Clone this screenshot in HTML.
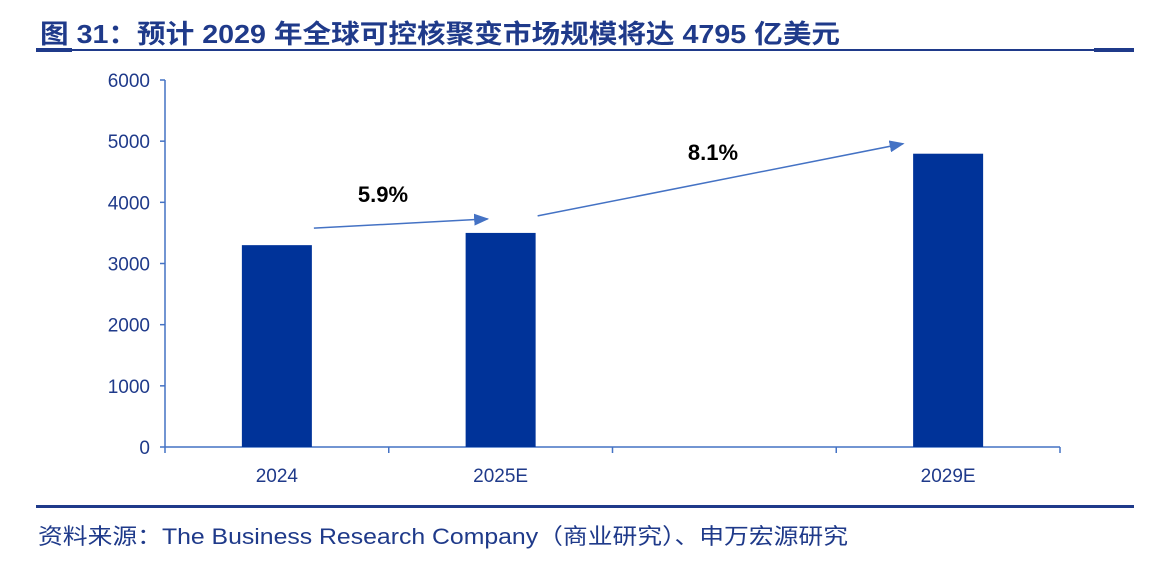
<!DOCTYPE html>
<html><head><meta charset="utf-8"><style>
body{margin:0;background:#fff;width:1170px;height:564px;overflow:hidden;font-family:"Liberation Sans","Noto Sans CJK SC",sans-serif;}
</style></head><body>
<svg width="1170" height="564" xmlns="http://www.w3.org/2000/svg">
<text x="40" y="43" font-size="26" font-weight="bold" fill="#1f3a8a" textLength="800" lengthAdjust="spacingAndGlyphs" font-family="Liberation Sans, Noto Sans CJK SC, sans-serif">图 31：预计 2029 年全球可控核聚变市场规模将达 4795 亿美元</text>
<rect x="36" y="49" width="1098" height="2" fill="#1f3a8a"/>
<rect x="36" y="48" width="36" height="4" fill="#1f3a8a"/>
<rect x="1094" y="48" width="40" height="4" fill="#1f3a8a"/>
<g id="plot"></g>
<rect x="36" y="505" width="1098" height="3" fill="#1f3a8a"/>
<text x="38" y="544" font-size="22" fill="#1f3a8a" textLength="810" lengthAdjust="spacingAndGlyphs" font-family="Liberation Sans, Noto Sans CJK SC, sans-serif">资料来源：The Business Research Company（商业研究）、申万宏源研究</text>
</svg>
<script>
const categories=["2024","2025E","","2029E"];
const values=[3300,3500,null,4795];
const yTicks=[0,1000,2000,3000,4000,5000,6000];
const growthLabels=["5.9%","8.1%"];
const NS="http://www.w3.org/2000/svg";
const g=document.getElementById('plot');
const x0=165,x1=1060,y0=447,y1=80,ymax=6000;
const slot=(x1-x0)/categories.length;
const ys=v=>y0-(v/ymax)*(y0-y1);
const xs=i=>x0+slot*(i+0.5);
function mk(t,a){const e=document.createElementNS(NS,t);for(const k in a)e.setAttribute(k,a[k]);g.appendChild(e);return e;}
const defs=mk('defs',{});
defs.innerHTML='<marker id="ah" markerWidth="10" markerHeight="8" refX="9" refY="4" orient="auto"><path d="M0,0 L10,4 L0,8 z" fill="#4472c4"/></marker>';
let ax=mk('line',{x1:x0,y1:y1,x2:x0,y2:y0,stroke:'#4472c4','stroke-width':1.5});


yTicks.forEach(t=>{
 const y=ys(t);
 const l=mk('line',{x1:x0-5,y1:y,x2:x0,y2:y,stroke:'#4472c4','stroke-width':1.5});
 
 
 const tx=mk('text',{x:x0-15,y:y+7,'font-size':19,fill:'#1f3a8a','text-anchor':'end'});
 tx.textContent=t;
 
 
});
let xa=mk('line',{x1:x0,y1:y0,x2:x1,y2:y0,stroke:'#4472c4','stroke-width':1.5});


for(let i=0;i<=categories.length;i++){
 const xt=x0+slot*i;
 const l=mk('line',{x1:xt,y1:y0,x2:xt,y2:y0+6,stroke:'#4472c4','stroke-width':1.5});
 
 
}
const bw=70;
categories.forEach((c,i)=>{
 if(c){const tx=mk('text',{x:xs(i),y:482,'font-size':19,fill:'#1f3a8a','text-anchor':'middle'});
 tx.textContent=c;
 
 }
 if(values[i]!=null){
  const r=mk('rect',{x:xs(i)-bw/2,y:ys(values[i]),width:bw,height:y0-ys(values[i]),fill:'#003399'});
  
  
 }
});
const arrows=[[0,1],[1,3]];
arrows.forEach((p,k)=>{
 const a=p[0],b=p[1];
 const xa1=xs(a)+bw/2+2,ya1=ys(values[a])-17,xb=xs(b)-bw/2-24,yb=ys(values[b])-17;
 const ln=mk('line',{x1:xa1,y1:ya1,x2:k===1?xb+14:xb+46,y2:k===1?ys(values[b])-10:yb+3,stroke:'#4472c4','stroke-width':1.5,'marker-end':'url(#ah)'});
 
 
 const mx=k===0?383:713,my=k===0?202:160;
 const tx=mk('text',{x:mx,y:my,'font-size':22,'font-weight':'bold',fill:'#000','text-anchor':'middle'});
 tx.textContent=growthLabels[k];
 
 
});
</script>
</body></html>
